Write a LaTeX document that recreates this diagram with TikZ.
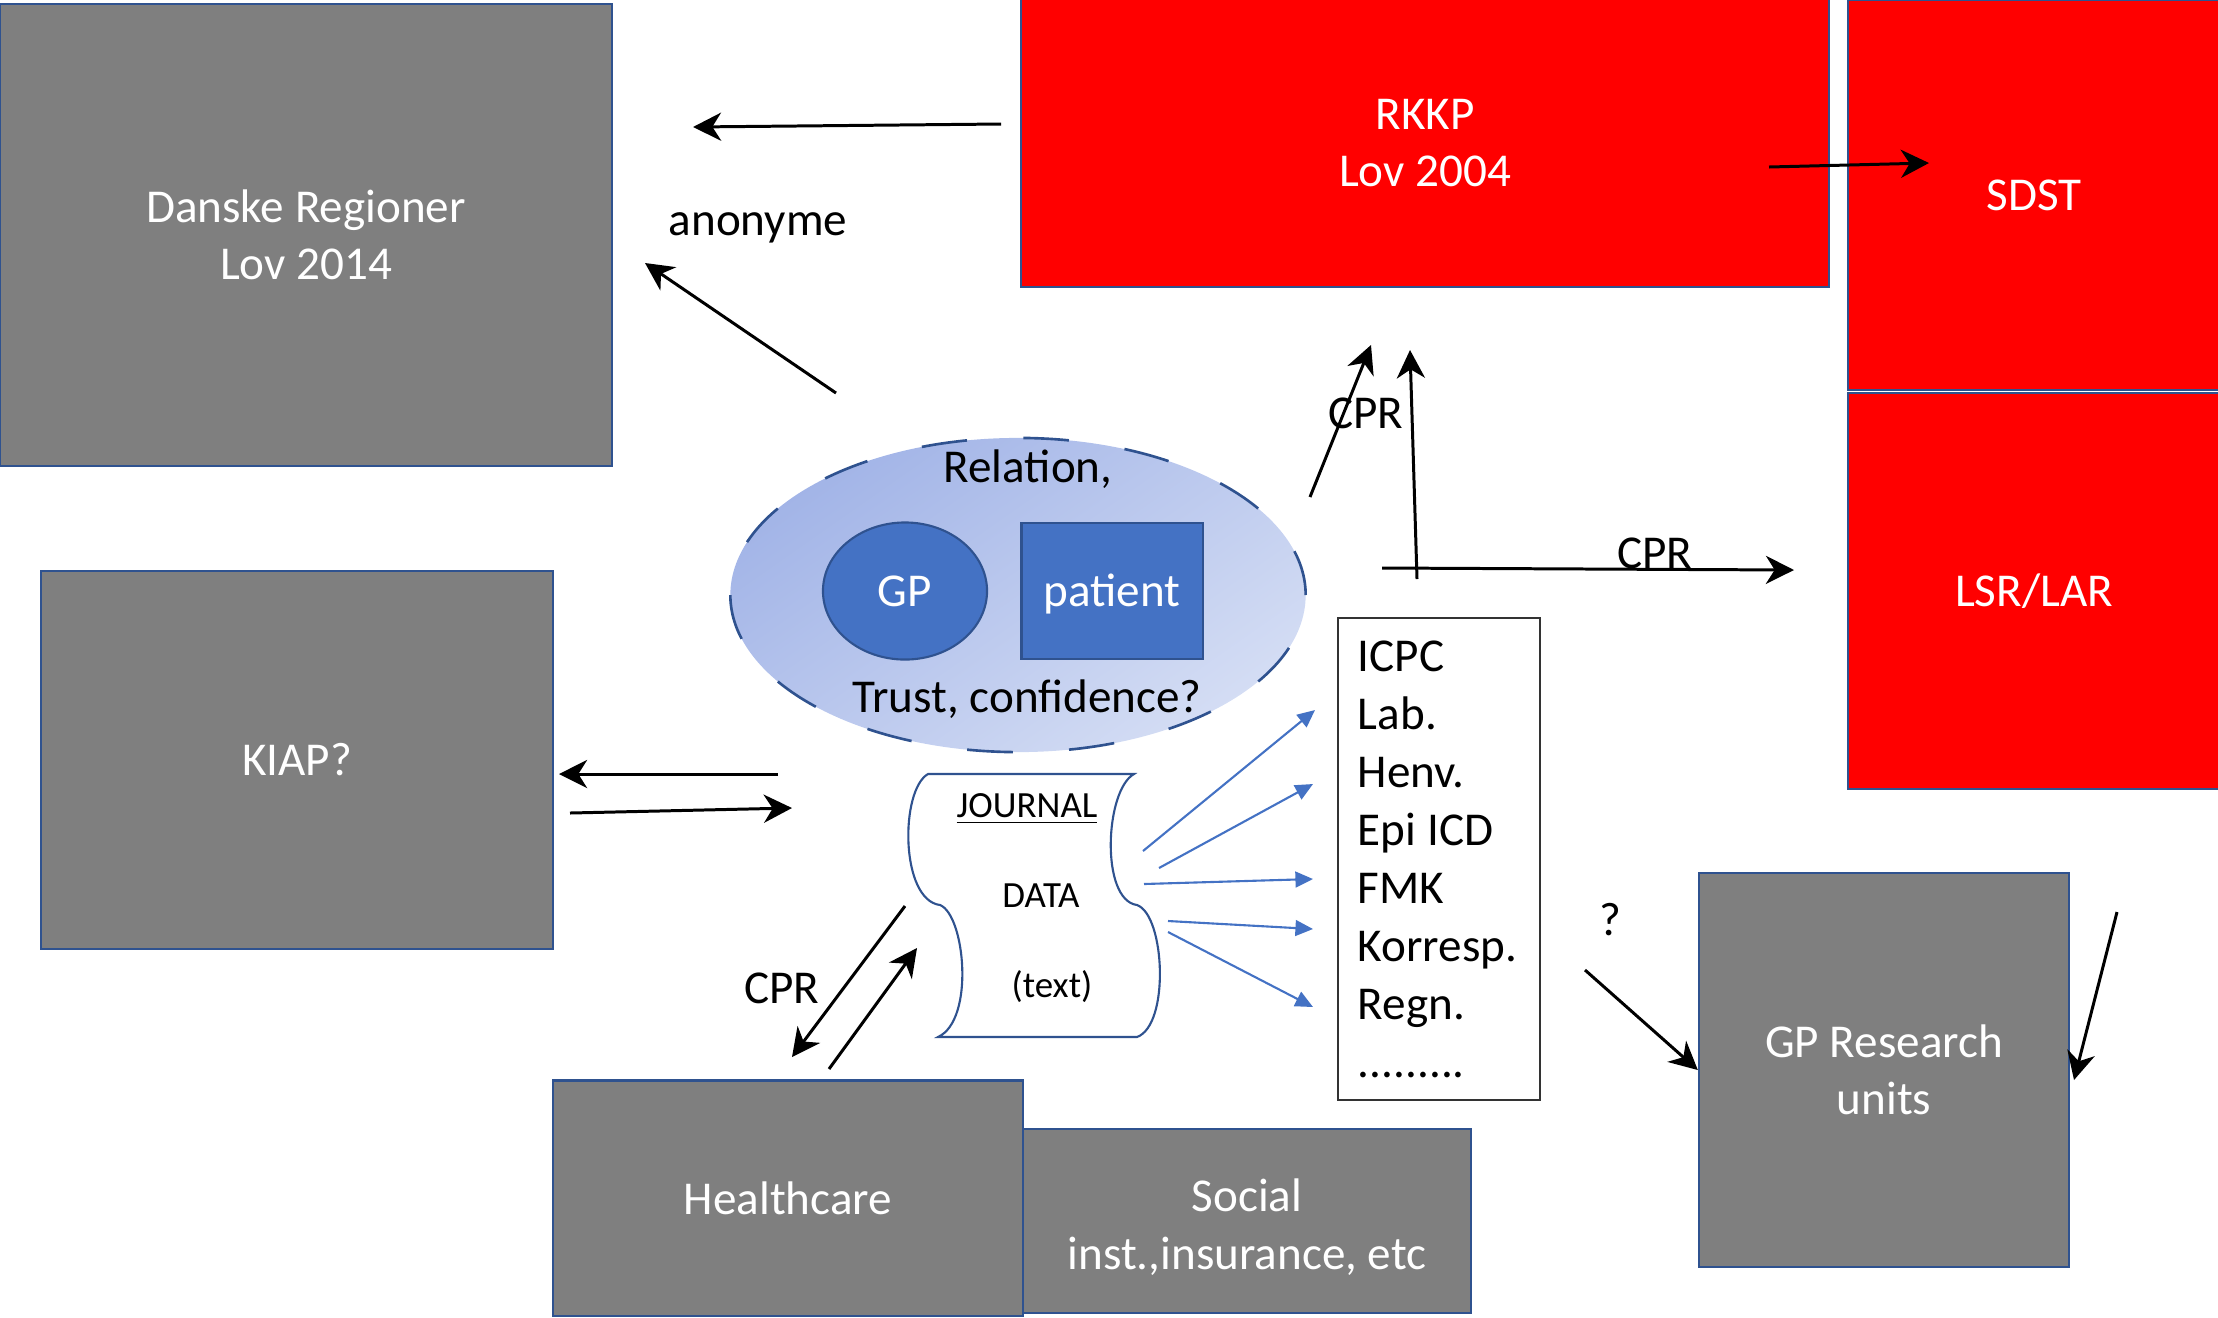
\documentclass[tikz,border=0pt]{standalone}
\usepackage{fontspec}
\setmainfont{Carlito}
\usepackage{tikz}
\usetikzlibrary{arrows.meta,shapes.geometric}
\usepackage{xcolor}
\definecolor{boxgray}{HTML}{7F7F7F}
\definecolor{edgeblue}{HTML}{2F528F}
\definecolor{accent}{HTML}{4472C4}
\definecolor{haloA}{HTML}{A2B4E7}
\definecolor{haloB}{HTML}{D4DDF4}

\begin{document}
\begin{tikzpicture}[
  x=0.01cm, y=-0.01cm,
  font=\fontsize{13.4}{16.3}\selectfont,
  org/.style={draw=edgeblue, line width=0.6pt, fill=boxgray, text=white, align=center, inner sep=0pt},
  reg/.style={draw=edgeblue, line width=0.6pt, fill=red, text=white, align=center, inner sep=0pt},
  halo/.style={ellipse, draw=edgeblue, line width=0.75pt, dash pattern=on 13pt off 16pt, top color=haloA, bottom color=haloB, shading angle=35, inner sep=0pt},
  actor/.style={draw=edgeblue, line width=0.6pt, fill=accent, text=white, inner sep=0pt, text height=9pt, text depth=0pt},
  listbox/.style={draw=black!80, line width=0.5pt, fill=white, align=left, inner xsep=0.2cm, font=\fontsize{13.4}{16.5}\selectfont},
  small/.style={font=\fontsize{10.5}{12}\selectfont},
  arrow/.style={-{Stealth[length=8pt,width=8pt,inset=2.5pt]}, line width=0.85pt},
  datarrow/.style={-{Triangle[length=5pt,width=4.5pt]}, line width=0.6pt, color=accent}
]
\useasboundingbox (0,0) rectangle (2218,1317);

\node[org, minimum width=6.12cm, minimum height=4.61cm] (danske) at (306,235) {Danske Regioner\\Lov 2014};
\node[reg, minimum width=8.08cm, minimum height=2.87cm] (rkkp) at (1425,143) {RKKP\\Lov 2004};
\node[reg, minimum width=3.72cm, minimum height=3.90cm] (sdst) at (2034,195) {SDST};
\node[reg, minimum width=3.72cm, minimum height=3.96cm] (lsr) at (2034,591) {LSR/LAR};
\node[org, minimum width=5.12cm, minimum height=3.78cm] (kiap) at (297,760) {KIAP?};
\node[org, minimum width=4.70cm, minimum height=2.35cm] (health) at (788,1198) {Healthcare};
\node[org, minimum width=4.48cm, minimum height=1.84cm, text height=29pt] (social) at (1247,1221) {Social\\inst.,insurance, etc};
\node[org, minimum width=3.70cm, minimum height=3.94cm] (gpres) at (1884,1070) {GP Research\\units};

\node[halo, minimum width=5.75cm, minimum height=3.14cm] (rel) at (1018,595) {};
\node[actor, ellipse, minimum width=1.64cm, minimum height=1.37cm] (gp) at (905,591) {GP};
\node[actor, minimum width=1.81cm, minimum height=1.36cm] (patient) at (1112,591) {patient};
\node[anchor=base] (reltop) at (1028,482) {Relation,};
\node[anchor=base] (relbot) at (1027,712) {Trust, confidence?};

\draw[edgeblue, line width=0.6pt, fill=white] (928,774) -- (1134,774)
  .. controls (1105,790) and (1100,900) .. (1137,905)
  .. controls (1165,915) and (1170,1025) .. (1137,1037) -- (938,1037)
  .. controls (975,1020) and (965,915) .. (940,905)
  .. controls (900,900) and (900,790) .. (928,774) -- cycle;
\node[small, anchor=base] (jtitle) at (1027,817) {\underline{JOURNAL}};
\node[small, anchor=base] (jdata) at (1041,907) {DATA};
\node[small, anchor=base] (jtext) at (1052,997) {(text)};

\node[listbox, text width=1.62cm, minimum height=4.82cm] (codes) at (1439,859) {\spaceskip=0pt ICPC\\Lab.\\Henv.\\Epi ICD\\FMK\\Korresp.\\Regn.\\.........};

\node[anchor=base] (anon) at (758,235) {anonyme};
\node[anchor=base] (cpra) at (1366,428) {CPR};
\node[anchor=base] (cprb) at (1655,568) {CPR};
\node[anchor=base] (cprc) at (782,1003) {CPR};
\node[anchor=base] (ask) at (1610,935) {?};

\coordinate (r0) at (1001,124);  \coordinate (r1) at (693,127);
\coordinate (e0) at (836,393);   \coordinate (e1) at (645,263);
\coordinate (c0) at (1310,497);  \coordinate (c1) at (1371,345);
\coordinate (v0) at (1417,579);  \coordinate (v1) at (1410,350);
\coordinate (h0) at (1382,568);  \coordinate (h1) at (1794,570);
\coordinate (s0) at (1769,167);  \coordinate (s1) at (1929,163);
\coordinate (k0) at (778,774);   \coordinate (k1) at (559,774);
\coordinate (k2) at (570,813);   \coordinate (k3) at (792,808);
\coordinate (p0) at (905,906);   \coordinate (p1) at (792,1057);
\coordinate (p2) at (829,1069);  \coordinate (p3) at (917,948);
\coordinate (q0) at (1585,970);
\coordinate (u0) at (2117,912);  \coordinate (u1) at (2074,1080);

\coordinate (jr1) at (1143,851); \coordinate (li1) at (1315,710);
\coordinate (jr2) at (1159,868); \coordinate (li2) at (1313,784);
\coordinate (jr3) at (1144,884); \coordinate (li3) at (1313,879);
\coordinate (jr4) at (1168,921); \coordinate (li4) at (1313,929);
\coordinate (jr5) at (1168,932); \coordinate (li5) at (1313,1007);

\foreach \a/\b in {r0/r1,e0/e1,c0/c1,v0/v1,h0/h1,s0/s1,k0/k1,k2/k3,p0/p1,p2/p3,u0/u1}
  \draw[arrow] (\a) -- (\b);
\draw[arrow] (q0) -- (gpres.west);
\foreach \i in {1,...,5} \draw[datarrow] (jr\i) -- (li\i);
\end{tikzpicture}
\end{document}
